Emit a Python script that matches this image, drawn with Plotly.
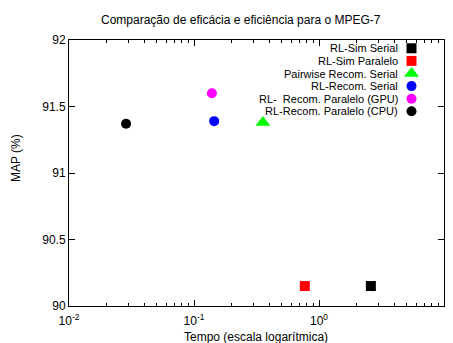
import plotly.graph_objects as go

# Data
series_names = ["RL-Sim Serial", "RL-Sim Paralelo", "Pairwise Recom. Serial",
                "RL-Recom. Serial", "RL-  Recom. Paralelo (GPU)", "RL-Recom. Paralelo (CPU)"]
tempo = [2.6, 0.77, 0.356, 0.145, 0.139, 0.0286]
map_pct = [90.15, 90.15, 91.38, 91.39, 91.60, 91.37]
colors = ["#000000", "#ff0000", "#00ff00", "#0000ff", "#ff00ff", "#000000"]
symbols = ["square", "square", "triangle-up", "circle", "circle", "circle"]
sizes = [10, 10, 13, 10, 10, 10]

x_tickvals = [0.01, 0.1, 1, 10]
x_ticktext = ["10<sup>-2</sup>", "10<sup>-1</sup>", "10<sup>0</sup>", "10<sup>1</sup>"]
x_minor_vals = [m * d for d in (0.01, 0.1, 1) for m in range(2, 10)]
y_tickvals = [90, 90.5, 91, 91.5, 92]
y_ticktext = ["90", "90.5", "91", "91.5", "92"]

W, H = 453, 343
L, R, T, B = 69, 9, 40, 37
PW, PH = W - L - R, H - T - B

FONT = "Liberation Sans, Arial, sans-serif"

def px_x(xp):
    return (xp - L) / PW

def px_y(yp):
    return 1 - (yp - T) / PH

fig = go.Figure()
for n, x, y, c, s, sz in zip(series_names, tempo, map_pct, colors, symbols, sizes):
    fig.add_trace(go.Scatter(x=[x], y=[y], mode="markers", name=n,
                             marker=dict(color=c, symbol=s, size=sz, line=dict(width=0)),
                             showlegend=False))

# custom legend (text right-aligned, key on the right) on an overlay axis in pixel units
row0, row_step = 48.3, 12.6
key_x = 411.5 - L
text_x = 400 - L
for i, (n, c, s, sz) in enumerate(zip(series_names, colors, symbols, sizes)):
    ypix = row0 + i * row_step - T
    fig.add_trace(go.Scatter(x=[key_x], y=[ypix], xaxis="x2", yaxis="y2", mode="markers",
                             marker=dict(color=c, symbol=s, size=sz, line=dict(width=0)),
                             showlegend=False, hoverinfo="skip"))
    fig.add_annotation(x=text_x, y=ypix, xref="x2", yref="y2", text=n, showarrow=False,
                       xanchor="right", yanchor="middle", font=dict(size=11, color="black", family=FONT))

fig.update_layout(
    width=W, height=H,
    margin=dict(l=L, r=R, t=T, b=B, pad=0),
    paper_bgcolor="white", plot_bgcolor="white",
    font=dict(family=FONT, size=12, color="black"),
    xaxis=dict(type="log", range=[-2, 1], tickvals=x_tickvals, ticktext=x_ticktext,
               ticks="inside", ticklen=6, tickcolor="black", showgrid=False, zeroline=False,
               showline=True, linecolor="black", linewidth=1, mirror="allticks",
               minor=dict(tickvals=x_minor_vals, ticks="inside", ticklen=3,
                          tickcolor="black", showgrid=False),
               tickfont=dict(size=12), ticklabelstandoff=4),
    yaxis=dict(range=[90, 92], tickvals=y_tickvals, ticktext=y_ticktext,
               ticks="inside", ticklen=6, tickcolor="black", showgrid=False, zeroline=False,
               showline=True, linecolor="black", linewidth=1, mirror="allticks",
               tickfont=dict(size=12)),
    xaxis2=dict(range=[0, PW], overlaying="x", visible=False, fixedrange=True),
    yaxis2=dict(range=[PH, 0], overlaying="y", visible=False, fixedrange=True),
    showlegend=False,
)

fig.add_annotation(x=px_x(241), y=px_y(20), xref="paper", yref="paper",
                   text="Comparação de eficácia e eficiência para o MPEG-7", showarrow=False,
                   xanchor="center", yanchor="middle", font=dict(size=12, family=FONT))
fig.add_annotation(x=px_x(256), y=px_y(336.5), xref="paper", yref="paper",
                   text="Tempo (escala logarítmica)", showarrow=False,
                   xanchor="center", yanchor="middle", font=dict(size=12, family=FONT))
fig.add_annotation(x=px_x(16), y=px_y(158), xref="paper", yref="paper",
                   text="MAP (%)", textangle=-90, showarrow=False,
                   xanchor="center", yanchor="middle", font=dict(size=12, family=FONT))

fig.write_html("out.html", config={"displayModeBar": False},
               post_script="document.body.style.margin='0';")
